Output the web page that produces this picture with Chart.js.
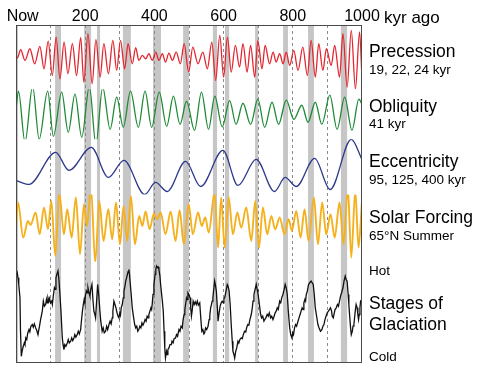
<!DOCTYPE html>
<html>
<head>
<meta charset="utf-8">
<script src="https://cdn.jsdelivr.net/npm/chart.js@4.4.1/dist/chart.umd.min.js"></script>
<style>
  html, body { margin: 0; padding: 0; background: #fff; }
  canvas { display: block; }
</style>
</head>
<body>
<canvas id="chart" width="489" height="372"></canvas>
<script>
// top axis: kyr before present
const tickValues = [0, 200, 400, 600, 800, 1000];
const tickLabels = ['   Now', '200', '400', '600', '800', '1000'];

// interglacial periods (grey bands), kyr ago
const interglacialStart = [0, 113, 197, 234, 309, 396, 483, 569, 604, 691, 772, 844, 939];
const interglacialEnd   = [6, 130, 217, 243, 332, 419, 500, 581, 616, 700, 786, 861, 957];

// precession (relative units), read at peaks and troughs
const precessionKyr = [0, 4, 13.5, 26, 40, 54, 69, 81, 93, 105, 116, 127, 139, 150, 163, 175, 187, 196, 208, 220,
  231, 243, 254, 267, 280, 291, 302, 314, 324, 336, 346, 355, 365, 375, 384, 394, 404, 413, 423, 432,
  442, 452, 463, 475, 486, 499, 511, 526, 540, 553, 566, 577, 589, 600, 611, 622, 634, 646, 656, 668,
  678, 690, 699, 711, 720, 733, 743, 752, 762, 772, 781, 791, 803, 815, 829, 842, 853, 865, 875, 887,
  897, 911, 921, 935, 945, 957, 969, 981, 993, 1000];
const precessionVal = [12, 2, 27, -5, 30, -15, 37, -30, 53, -50, 65, -60, 50, -45, 45, -50, 63, -70, 75, -75,
  57, -55, 45, -45, 55, -35, 55, -30, 45, -15, 33, -5, 10, 0, 15, -5, 20, -5, 15, -10,
  17, -5, 20, -15, 45, -40, 35, -15, 20, -30, 50, -65, 70, -55, 65, -40, 40, -25, 45, -40,
  40, -55, 55, -30, 40, -15, 20, -10, 15, -15, 20, -20, 25, -35, 35, -50, 55, -55, 45, -35,
  30, -20, 40, -55, 75, -85, 85, -90, 80, -60];

// obliquity (relative units)
const obliquityKyr = [0, 7, 26, 48, 67, 91.5, 108, 132, 151, 170.5, 190, 212, 231, 250.5, 272, 291, 310, 331, 353.5, 373,
  392, 414, 435.5, 455, 474, 493, 516, 536, 556.5, 574.5, 596, 617.5, 636, 656, 678, 699, 718.5, 740, 759, 781,
  803, 826, 844, 865, 884, 907, 928, 950, 971, 991, 1000];
const obliquityVal = [5, 23, -28, 28, -25, 23, -22, 22, -18, 20, -23, 28, -30, 27, -15, 17, -13, 23, -13, 23,
  -13, 22, -12, 18, -10, 13, -16, 22, -15, 18, -12.5, 13.5, -10, 11, -10, 15, -13, 12, -10, 14,
  -5, 9, -8, 12, -10, 19, -15, 17, -16, 15, 10];

// eccentricity (relative units)
const eccentricityKyr = [0, 37.5, 114.6, 153, 217.6, 267, 312, 372, 403.5, 437, 490, 533.6, 598, 641.5, 694, 747, 778, 810, 863, 908, 969, 1000];
const eccentricityVal = [-11, -15, 17, -1, 22, -8, 9, -25, -13, -22, 8, -17, 19, -16, 10, -22, -8, -17, 11, -20, 30, 10];

// 65N summer insolation (relative units)
const forcingKyr = [0, 5.8, 21, 34.6, 42, 56.8, 68.4, 81, 92.4, 102, 113.6, 125, 138.6, 148, 160.8, 173, 185, 196.4, 205, 216.6,
  229, 240.7, 253, 266.7, 278, 289, 300.4, 311, 321.6, 332, 343.8, 356, 365, 374.6, 386, 398.7, 408, 418, 432, 447,
  461, 473, 485, 499, 511, 526, 537, 547, 557, 574, 584, 593, 603, 614.5, 627, 639.5, 651, 665.5, 680, 691.5,
  702, 713.7, 726, 738, 749, 762, 776, 788, 797.5, 810, 822.5, 834, 845.6, 861, 872.6, 885, 896.6, 909, 921, 935,
  947, 959, 969, 980.5, 990, 1000];
const forcingVal = [-20, 55, -50, 0, -12, 25, -40, 40, -25, 60, -105, 85, -40, 35, -50, 70, -100, 50, -15, 102,
  -125, 60, -60, 35, -55, 55, -70, 45, -60, 75, -70, 15, -15, 28, -25, 22, 5, 25, -40, 28,
  -60, 32, -70, 50, -40, 25, -15, 10, -35, 85, -80, 70, -80, 70, -40, 25, -20, 40, -60, 60,
  -80, 40, -40, 15, -25, 10, -40, 5, -30, 30, -50, 35, -60, 70, -70, 55, -40, 20, -50, 55,
  -70, 100, -110, 90, -80, 60];

// glaciation stages (relative units, hot up)
const glaciationKyr = [
  0, 3, 5.8, 8, 11.5, 13, 15.4, 18, 21, 24,
  26, 28, 31, 34, 37.5, 40, 43, 47, 50, 53,
  56.8, 60, 63.5, 66, 68, 71, 74, 76, 79, 82,
  85.7, 88, 90, 92.4, 95, 97, 100, 103, 105, 107.8,
  111, 113, 115.5, 118, 121.3, 124, 127, 130, 133.8, 136,
  138.6, 141, 144, 148.3, 151, 154, 158, 161, 164, 167.5,
  170, 173, 177, 180, 183, 186.8, 189, 192, 194.5, 197,
  199, 201, 204, 206, 208, 211, 213.7, 216, 219.5, 222,
  225, 228, 230, 233, 236, 239, 242.6, 245, 249, 252,
  255, 259, 262, 265, 268.7, 272, 275, 278, 280, 283,
  286, 289, 292, 295, 297.5, 300, 302, 304, 307, 310,
  312, 315, 317, 319.7, 322, 324, 326, 328, 330, 333,
  336, 340, 343, 346, 349, 352, 355, 358, 361, 364,
  367, 370, 373, 376, 379, 382, 384, 387, 390, 392,
  394, 396, 398.7, 402, 404, 406.4, 409, 411, 413, 416,
  418, 421, 423, 425.6, 428, 430, 432, 435, 437, 439,
  442, 445, 448.7, 451, 454, 457, 461, 464, 467, 471,
  474, 477, 480.5, 483, 486, 488, 490, 493, 495, 497,
  500, 503, 505, 507, 509, 512, 515, 518, 521, 524,
  527, 531, 534, 537, 540, 543, 545, 548, 551, 555,
  558, 560, 562.5, 565, 567, 569, 572, 574, 576, 579,
  582, 584, 587, 590, 593, 596, 599, 601, 603, 606,
  608, 610.6, 613, 616, 619, 622, 625, 627, 630, 632,
  635, 638, 641.5, 644, 647, 651, 654, 657, 660.7, 664,
  667, 670, 673, 676, 680, 683, 685, 687.7, 691, 694.4,
  697, 699, 701, 704, 707, 710, 713, 716.6, 719, 722,
  726, 729, 732, 736, 739, 742.6, 746, 749, 752, 755,
  758, 762, 765, 768, 771.5, 775, 778, 781, 784, 787,
  791, 794, 797.5, 800, 802, 805, 808, 811, 815, 818,
  821, 824, 827, 830, 832, 835, 837, 839, 842, 845.6,
  849, 853, 856, 859, 862, 865, 868, 872.6, 876, 880,
  884, 887, 890, 893, 896, 899.5, 903, 906, 909, 912,
  914, 917, 920, 922, 925.5, 929, 932, 935, 938, 941,
  945, 948, 951.5, 954, 957, 960, 962, 964, 967, 969,
  972, 974, 976.6, 979, 981, 983, 986, 988, 990, 992,
  994, 996, 998, 1000];
const glaciationVal = [
  125, 118, 100, 80, 40, -60, -135, -118, -105, -95,
  -100, -80, -85, -65, -55, -62, -45, -40, -48, -38,
  -50, -58, -70, -55, -45, -25, -10, 0, 30, 15,
  20, 35, 25, 40, 30, 38, 25, 30, 20, 45,
  70, 65, 100, 110, 120, 95, 50, 0, -80, -100,
  -115, -100, -105, -95, -85, -95, -90, -80, -88, -80,
  -70, -78, -70, -60, -68, -55, -30, 0, 20, 35,
  25, 50, 60, 55, 70, 55, 45, 65, 80, 40,
  0, -10, -20, 30, 80, 50, 0, -30, -60, -50,
  -65, -60, -45, -55, -40, -30, -38, -20, 0, 30,
  20, 10, -5, -15, -20, -5, -12, 10, 20, 40,
  60, 75, 90, 100, 110, 118, 125, 110, 85, 50,
  10, -20, -40, -50, -45, -60, -55, -45, -50, -35,
  -42, -35, -25, -30, -15, -20, -10, 0, 10, 5,
  25, 50, 80, 110, 125, 135, 130, 132, 125, 105,
  80, 50, 30, 0, -60, -110, -140, -120, -130, -115,
  -110, -100, -100, -90, -95, -82, -80, -70, -75, -55,
  -60, -45, -50, -25, -10, 5, 20, 40, 35, 55,
  50, 40, 10, -15, 0, 30, 20, 28, 20, 30,
  18, 25, -20, -60, -55, -68, -65, -50, -55, -45,
  -25, -15, 10, 20, 30, 40, 70, 90, 80, 60,
  10, -30, -5, 15, 25, 30, 25, 38, 40, 55,
  65, 80, 75, 60, 20, -40, -90, -120, -130, -140,
  -120, -110, -90, -95, -85, -80, -82, -70, -60, -62,
  -48, -40, -42, -25, -10, 10, 30, 50, 65, 80,
  65, 55, 40, 15, -10, -20, -15, -30, -25, -20,
  -10, -15, -5, -20, -15, -25, -15, -5, 0, 10,
  5, 30, 25, 40, 50, 65, 80, 70, 50, 0,
  -50, -70, -80, -65, -70, -50, -40, -45, -30, -20,
  -10, 0, 10, 5, 25, 35, 30, 50, 60, 80,
  85, 90, 85, 80, 50, 10, -10, -40, -50, -60,
  -55, -45, -40, -25, -15, -5, 0, 5, 10, 0,
  -15, -20, -5, 5, 10, 20, 15, 30, 45, 55,
  70, 90, 105, 95, 90, 50, 20, -10, -50, -70,
  -60, -45, -40, -15, 5, 20, 10, -10, -25, -10,
  10, 30, 28, 35];

const FONT = 'Liberation Sans, Arial, sans-serif';

function toPoints(xs, ys) {
  return xs.map((x, i) => ({ x: x, y: ys[i] }));
}

// grey interglacial bands, drawn under the grid
const bandsPlugin = {
  id: 'bands',
  beforeDraw(chart) {
    const { ctx, chartArea, scales } = chart;
    ctx.save();
    ctx.fillStyle = '#c6c6c6';
    for (let i = 0; i < interglacialStart.length; i++) {
      const x0 = scales.x.getPixelForValue(interglacialStart[i]);
      const x1 = scales.x.getPixelForValue(interglacialEnd[i]);
      ctx.fillRect(x0, chartArea.top, x1 - x0, chartArea.bottom - chartArea.top);
    }
    ctx.restore();
  }
};

// frame and the captions on the right
const textPlugin = {
  id: 'captions',
  afterDraw(chart) {
    const { ctx, chartArea } = chart;
    ctx.save();
    ctx.strokeStyle = '#4a4a4a';
    ctx.lineWidth = 1;
    ctx.strokeRect(chartArea.left + 0.5, chartArea.top + 0.5,
      chartArea.right - chartArea.left - 1, chartArea.bottom - chartArea.top - 1);

    ctx.fillStyle = '#000';
    ctx.textBaseline = 'alphabetic';
    ctx.textAlign = 'left';
    ctx.font = '17px ' + FONT;
    ctx.fillText('kyr ago', chartArea.right + 22, 23);

    const x = chartArea.right + 7;
    const big = '17.5px ' + FONT;
    const small = '13.5px ' + FONT;
    const lines = [
      ['Precession', big, 57],
      ['19, 22, 24 kyr', small, 74],
      ['Obliquity', big, 112],
      ['41 kyr', small, 128],
      ['Eccentricity', big, 167],
      ['95, 125, 400 kyr', small, 184],
      ['Solar Forcing', big, 223],
      ['65\u00B0N Summer', small, 240],
      ['Hot', small, 275],
      ['Stages of', big, 309],
      ['Glaciation', big, 330],
      ['Cold', small, 361]
    ];
    lines.forEach(function (l) {
      ctx.font = l[1];
      ctx.fillText(l[0], x, l[2]);
    });
    ctx.restore();
  }
};

function panelAxis(min, max, heightWeight, order) {
  return {
    type: 'linear',
    display: false,
    position: 'left',
    stack: 'panels',
    stackWeight: heightWeight,
    weight: order,
    min: min,
    max: max
  };
}

function curve(xs, ys, color, width, axis, smooth) {
  return {
    data: toPoints(xs, ys),
    yAxisID: axis,
    borderColor: color,
    borderWidth: width,
    pointRadius: 0,
    fill: false,
    cubicInterpolationMode: smooth ? 'monotone' : 'default',
    tension: 0
  };
}

new Chart(document.getElementById('chart'), {
  type: 'line',
  data: {
    datasets: [
      curve(precessionKyr, precessionVal, '#e3262f', 1.3, 'yPrec', true),
      curve(obliquityKyr, obliquityVal, '#1e8a36', 1.3, 'yObl', true),
      curve(eccentricityKyr, eccentricityVal, '#2d3a8c', 1.3, 'yEcc', true),
      curve(forcingKyr, forcingVal, '#f5b11d', 1.9, 'ySol', true),
      curve(glaciationKyr, glaciationVal, '#111111', 1.3, 'yGla', false)
    ]
  },
  options: {
    responsive: false,
    animation: false,
    events: [],
    layout: { padding: { left: 16, right: 127, top: 7.8, bottom: 9 } },
    plugins: { legend: { display: false }, tooltip: { enabled: false } },
    scales: {
      x: {
        type: 'linear',
        position: 'top',
        min: 0,
        max: 1000,
        afterFit: function (scale) {
          scale.paddingLeft = 0;
          scale.paddingRight = 0;
        },
        ticks: {
          stepSize: 100,
          autoSkip: false,
          maxRotation: 0,
          padding: -1,
          color: '#000',
          font: { family: FONT, size: 16 },
          callback: function (v) {
            const i = tickValues.indexOf(v);
            return i >= 0 ? tickLabels[i] : '';
          }
        },
        grid: {
          drawTicks: false,
          lineWidth: 1,
          color: function (c) {
            const v = c.tick ? c.tick.value : 0;
            return (v === 0 || v === 1000) ? 'rgba(0,0,0,0)' : '#8a8a8a';
          }
        },
        border: { display: false, dash: [3, 3] }
      },
      yPrec: panelAxis(-91, 101, 64, 5),
      yObl: panelAxis(-25, 25, 50, 4),
      yEcc: panelAxis(-25, 30, 55, 3),
      ySol: panelAxis(-122, 79, 67, 2),
      yGla: panelAxis(-155, 148, 101, 1)
    }
  },
  plugins: [bandsPlugin, textPlugin]
});
</script>
</body>
</html>
